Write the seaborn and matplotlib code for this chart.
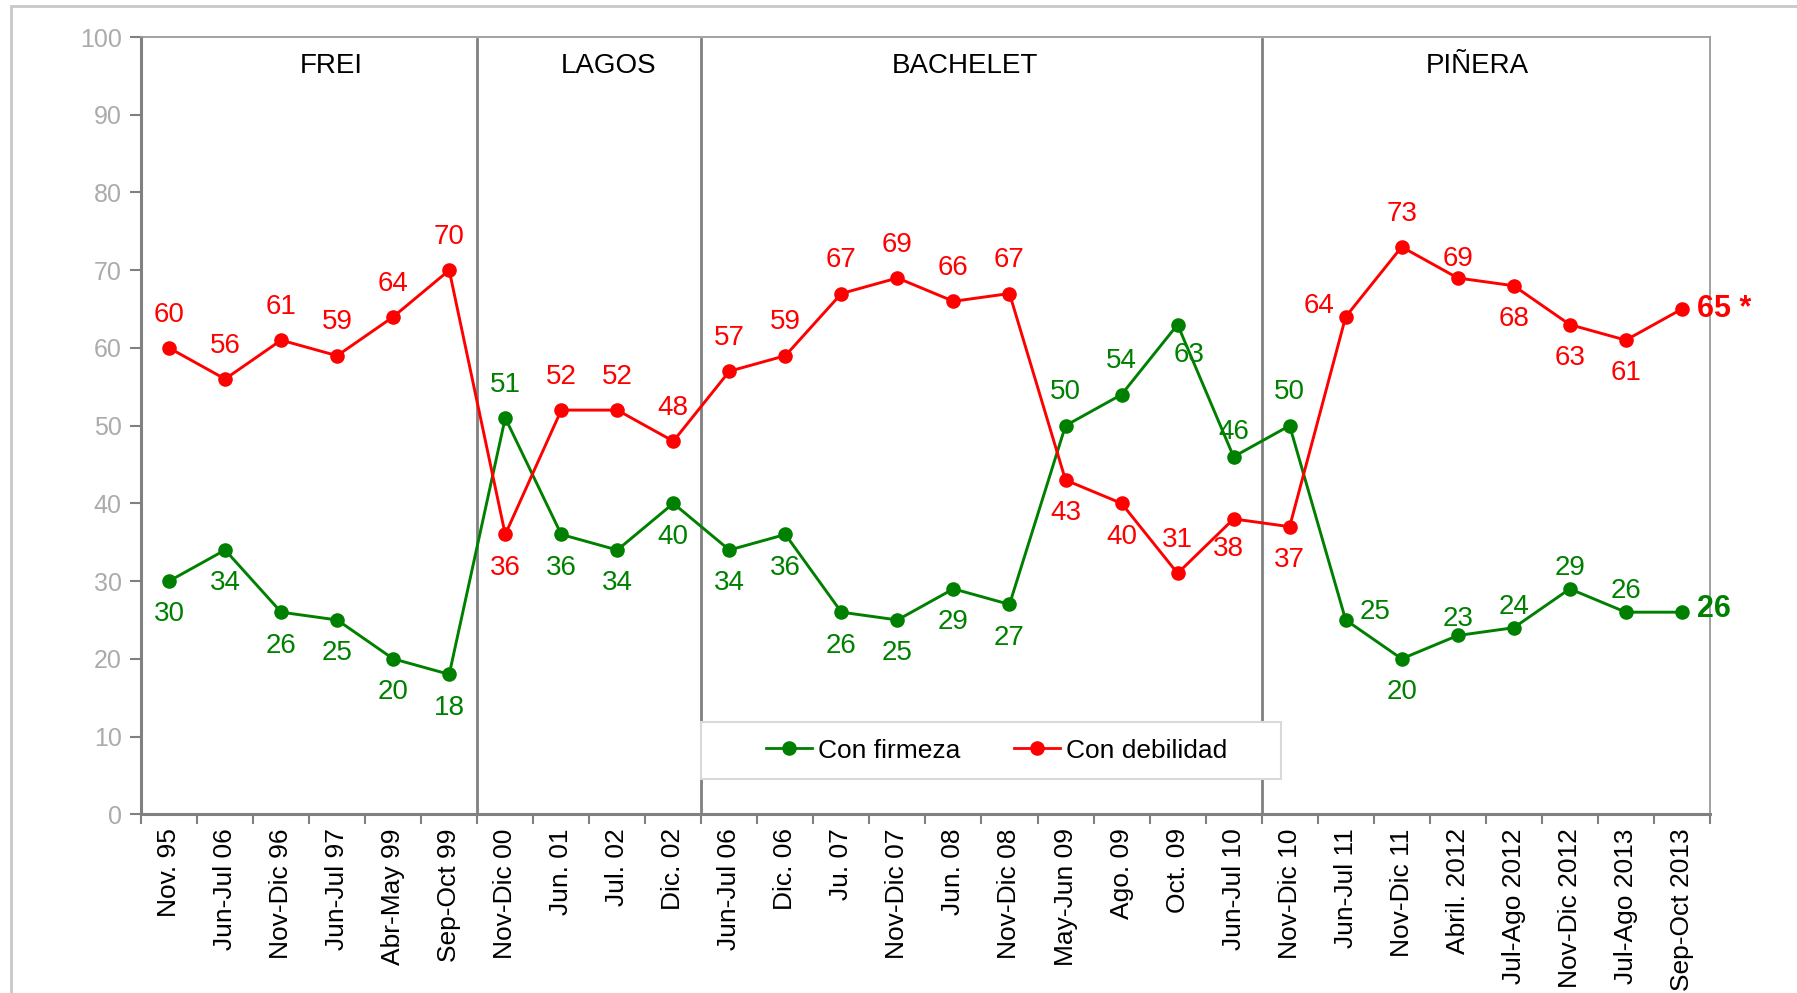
import numpy as np
import pandas as pd
import matplotlib
matplotlib.use("Agg")
import matplotlib.pyplot as plt
from matplotlib.lines import Line2D
from matplotlib.patches import Rectangle
import seaborn as sns

periodos = ["Nov. 95", "Jun-Jul 06", "Nov-Dic 96", "Jun-Jul 97", "Abr-May 99", "Sep-Oct 99",
            "Nov-Dic 00", "Jun. 01", "Jul. 02", "Dic. 02",
            "Jun-Jul 06", "Dic. 06", "Ju. 07", "Nov-Dic 07", "Jun. 08", "Nov-Dic 08",
            "May-Jun 09", "Ago. 09", "Oct. 09", "Jun-Jul 10",
            "Nov-Dic 10", "Jun-Jul 11", "Nov-Dic 11", "Abril. 2012", "Jul-Ago 2012",
            "Nov-Dic 2012", "Jul-Ago 2013", "Sep-Oct 2013"]
firmeza = [30, 34, 26, 25, 20, 18, 51, 36, 34, 40, 34, 36, 26, 25, 29, 27,
           50, 54, 63, 46, 50, 25, 20, 23, 24, 29, 26, 26]
debilidad = [60, 56, 61, 59, 64, 70, 36, 52, 52, 48, 57, 59, 67, 69, 66, 67,
             43, 40, 31, 38, 37, 64, 73, 69, 68, 63, 61, 65]
presidentes = ["FREI", "LAGOS", "BACHELET", "PIÑERA"]
cortes = [5.5, 9.5, 19.5]          # separators between governments
pos_pres = [2.9, 7.85, 14.2, 23.35]

VERDE = "#008000"
ROJO = "#ff0000"

# label offsets in points (dx, dy)
D = 24
off_f = [(0, -D)] * 6 + [(0, D)] + [(0, -D)] * 9 + [(0, D), (0, D), (8, -22), (0, 18), (0, D),
         (21, 6), (0, -D), (0, 12), (0, 15), (0, 15), (0, 15)]
off_d = [(0, D)] * 6 + [(0, -D)] + [(0, D)] * 9 + [(0, -D), (0, -D), (0, 24), (-4, -22), (0, -D),
         (-19, 8), (0, D), (0, 14), (0, -D), (0, -D), (0, -D)]

df = pd.DataFrame({
    "x": list(range(len(periodos))) * 2,
    "valor": firmeza + debilidad,
    "serie": ["Con firmeza"] * len(firmeza) + ["Con debilidad"] * len(debilidad),
})

plt.rcParams["font.family"] = ["Liberation Sans", "DejaVu Sans"]

fig = plt.figure(figsize=(17.97, 9.93), dpi=100)
ax = fig.add_axes([0.0785, 0.180, 0.873, 0.7827])

sns.lineplot(data=df, x="x", y="valor", hue="serie",
             palette={"Con firmeza": VERDE, "Con debilidad": ROJO},
             marker="o", markersize=10.5, markeredgewidth=0, linewidth=2.1,
             legend=False, ax=ax)

for i in range(len(periodos) - 1):
    ax.annotate(str(firmeza[i]), (i, firmeza[i]), xytext=off_f[i], textcoords="offset points",
                ha="center", va="center", color=VERDE, fontsize=20)
    ax.annotate(str(debilidad[i]), (i, debilidad[i]), xytext=off_d[i], textcoords="offset points",
                ha="center", va="center", color=ROJO, fontsize=20)
n = len(periodos) - 1
ax.annotate(f"{debilidad[n]} *", (n, debilidad[n]), xytext=(11, 0), textcoords="offset points",
            ha="left", va="center", color=ROJO, fontsize=22, fontweight="bold")
ax.annotate(str(firmeza[n]), (n, firmeza[n]), xytext=(11, 2), textcoords="offset points",
            ha="left", va="center", color=VERDE, fontsize=22, fontweight="bold")

for c in cortes:
    ax.plot([c, c], [0, 99.7], color="#808080", lw=2, zorder=1)
for p, nombre in zip(pos_pres, presidentes):
    ax.text(p, 96.3, nombre, ha="center", va="center", fontsize=20, color="black")

ax.set_xlim(-0.5, len(periodos) - 0.5)
ax.set_ylim(0, 100)
ax.set_yticks(np.arange(0, 101, 10))
ax.set_xticks(range(len(periodos)))
ax.set_xticklabels(periodos, rotation=90, fontsize=19)
ax.set_xticks(np.arange(-0.5, len(periodos), 1), minor=True)
ax.tick_params(axis="x", which="major", length=0, pad=10)
ax.tick_params(axis="x", which="minor", length=7, width=1.5, color="#808080", direction="out")
ax.tick_params(axis="y", length=8, width=1.5, color="#808080", labelcolor="#ababab",
               labelsize=18, pad=6)
ax.set_xlabel("")
ax.set_ylabel("")

for s in ["left", "bottom"]:
    ax.spines[s].set_color("#808080")
    ax.spines[s].set_linewidth(2.2)
for s in ["top", "right"]:
    ax.spines[s].set_color("#9a9a9a")
    ax.spines[s].set_linewidth(1.3)

# legend without frame, frame drawn separately (wider side padding than matplotlib allows)
handles = [Line2D([], [], color=VERDE, marker="o", markersize=10.5, markeredgewidth=0, lw=2),
           Line2D([], [], color=ROJO, marker="o", markersize=10.5, markeredgewidth=0, lw=2)]
leg = ax.legend(handles, ["Con firmeza", "Con debilidad"], ncol=2, loc="center",
                bbox_to_anchor=(0.5546, 0.244), bbox_transform=fig.transFigure,
                frameon=False, fontsize=19, borderpad=0, columnspacing=2.0,
                handlelength=1.75, handletextpad=0.25, borderaxespad=0)
leg.set_zorder(6)
ax.add_patch(Rectangle((0.390, 0.2155), 0.3228, 0.0574, transform=fig.transFigure,
                       facecolor="white", ec="#d9d9d9", lw=1.5, zorder=4, clip_on=False))

fig.patches.append(Rectangle((11 / 1797, -0.1), 1.2, 1.1 - 6 / 993, transform=fig.transFigure,
                             fill=False, ec="#c8c8c8", lw=2))

fig.savefig("out.png", dpi=100)
